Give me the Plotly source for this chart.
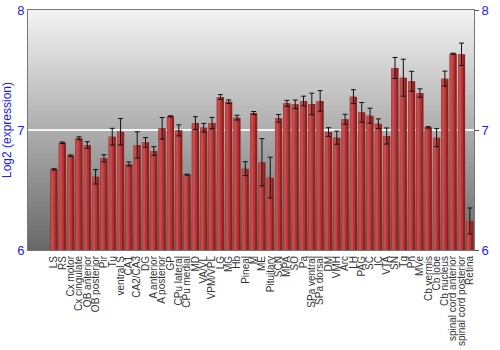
import plotly.graph_objects as go

categories = ["LS", "RS", "Cx motor", "Cx cingulate", "OB anterior", "OB posterior", "Pir", "Tu",
              "ventral S", "CA1", "CA2/CA3", "DG", "A anterior", "A posterior", "GP", "CPu lateral",
              "CPu medial", "MD", "VA/VL", "VPM/VPL", "LG", "MG", "Hb", "Pineal", "M", "ME",
              "Pituitary", "SCN", "MPA", "SO", "Pa", "SPa ventral", "SPa dorsal", "DM", "VMH", "Arc",
              "LH", "PAG", "SC", "IC", "VTA", "SN", "Tg", "Pn", "MVe", "Cb vermis", "Cb lobe",
              "Cb nucleus", "spinal cord anterior", "spinal cord posterior", "Retina"]

values = [6.672, 6.894, 6.786, 6.931, 6.875, 6.61, 6.764, 6.944,
          6.986, 6.717, 6.875, 6.897, 6.825, 7.014, 7.114, 6.997,
          6.628, 7.058, 7.019, 7.058, 7.275, 7.236, 7.103, 6.678, 7.142, 6.731,
          6.603, 7.097, 7.222, 7.214, 7.242, 7.217, 7.242, 6.983, 6.936, 7.089,
          7.278, 7.147, 7.119, 7.053, 6.95, 7.517, 7.436, 7.406, 7.308, 7.022, 6.936,
          7.428, 7.636, 7.631, 6.242]

errors = [0.005, 0.006, 0.006, 0.012, 0.028, 0.06, 0.03, 0.07,
          0.11, 0.017, 0.11, 0.04, 0.036, 0.09, 0.004, 0.046,
          0.004, 0.053, 0.036, 0.047, 0.02, 0.015, 0.02, 0.058, 0.012, 0.197,
          0.17, 0.032, 0.025, 0.036, 0.04, 0.09, 0.086, 0.036, 0.055, 0.042,
          0.058, 0.082, 0.0625, 0.04, 0.067, 0.0875, 0.154, 0.083, 0.035, 0.006, 0.075,
          0.0625, 0.004, 0.093, 0.108]

y_ticks = [6, 7, 8]
y_range = [6, 8]

fig = go.Figure()

# background vertical gradient
n = 60
top = (243, 243, 243)
bot = (104, 104, 104)
for i in range(n):
    t = (i + 0.5) / n
    c = tuple(int(round(top[k] + (bot[k] - top[k]) * t)) for k in range(3))
    fig.add_shape(type="rect", xref="paper", yref="paper",
                  x0=0, x1=1, y0=1 - (i + 1) / n, y1=1 - i / n,
                  fillcolor="rgb(%d,%d,%d)" % c, line_width=0, layer="below")

W = 0.86
layers = [(W, -W / 2, "#8c2020"), (0.62, -W / 2, "#b03636"), (0.32, -W / 2 + 0.06, "#c64c4c")]
for w, off, col in layers:
    fig.add_trace(go.Bar(x=categories, y=values, width=w, offset=off,
                         marker=dict(color=col, line_width=0), hoverinfo="skip",
                         showlegend=False, base=0))

fig.add_trace(go.Bar(x=categories, y=values, width=W, base=0,
                     marker=dict(color="rgba(0,0,0,0)", line_width=0),
                     error_y=dict(type="data", array=errors, color="#111111",
                                  thickness=1, width=2.5),
                     showlegend=False))

fig.add_trace(go.Scatter(x=[categories[0]], y=[7], yaxis="y2", mode="markers",
                         marker=dict(opacity=0), showlegend=False, hoverinfo="skip"))

fig.update_layout(
    width=500, height=350,
    margin=dict(l=28, r=26, t=10, b=100),
    paper_bgcolor="white",
    plot_bgcolor="rgba(0,0,0,0)",
    barmode="overlay",
    font=dict(family="Liberation Sans, Arial, sans-serif"),
    xaxis=dict(tickangle=-90, tickfont=dict(size=10, color="#333333"),
               tickmode="array", tickvals=categories, ticktext=categories,
               showgrid=False, ticks="", showline=True, linecolor="#777777",
               mirror=True, ticklen=0, automargin=False, ticklabelstandoff=1),
    yaxis=dict(range=y_range, tickvals=y_ticks, ticktext=[str(v) for v in y_ticks],
               tickfont=dict(size=13, color="#1a1aff"),
               title=dict(text="Log2 (expression)", font=dict(size=12, color="#1a1aff"), standoff=2),
               showgrid=True, gridcolor="#f4f4f4", gridwidth=1.5,
               zeroline=False, showline=True, linecolor="#777777", ticks="", ticklen=0,
               automargin=False),
    yaxis2=dict(range=y_range, tickvals=y_ticks, ticktext=[str(v) for v in y_ticks],
                overlaying="y", side="right", showgrid=False, zeroline=False,
                tickfont=dict(size=13, color="#1a1aff"), ticks="outside", ticklen=4,
                tickcolor="#555555", showline=True, linecolor="#777777", automargin=False),
)

fig.write_html("out.html")
